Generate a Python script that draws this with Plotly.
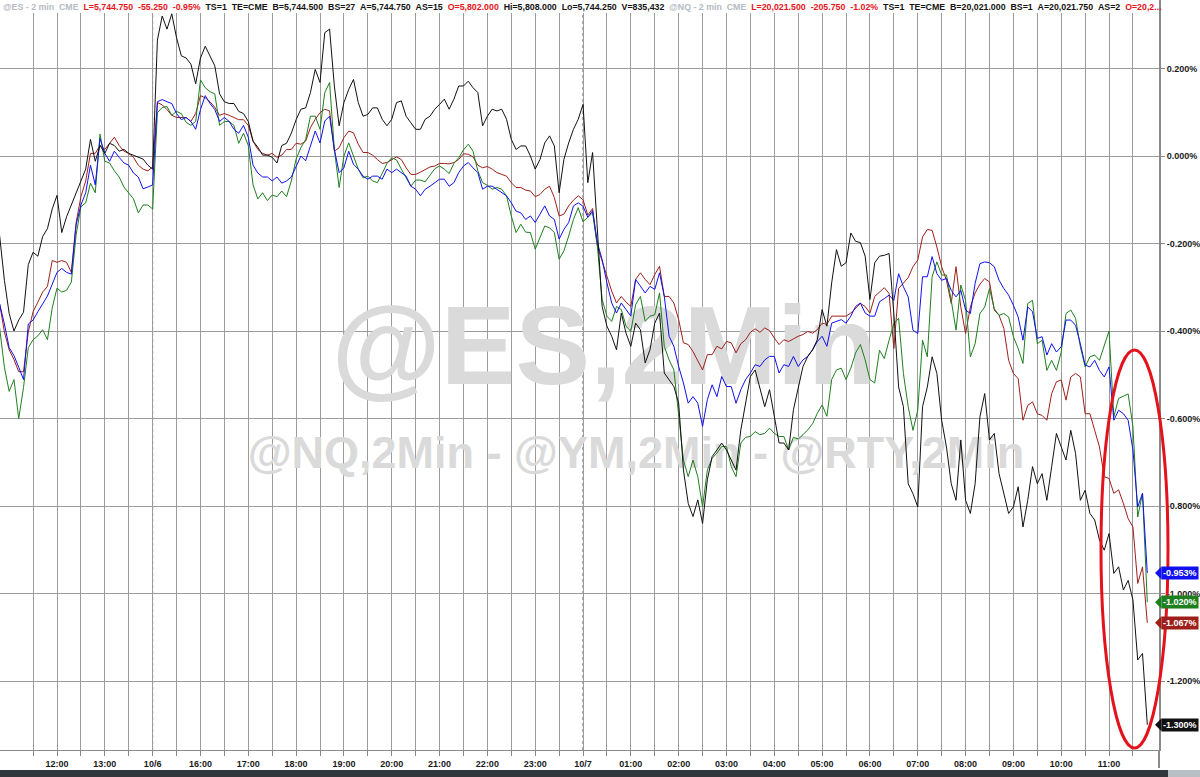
import plotly.graph_objects as go

# ---------------- data ----------------
# x axis: hour slots (0 = 12:00 label, 1 = 13:00, 2 = 10/6 session open ...), sampled every 0.1 slot (6 min)
hour_labels = ['12:00', '13:00', '10/6', '16:00', '17:00', '18:00', '19:00', '20:00',
               '21:00', '22:00', '23:00', '10/7', '01:00', '02:00', '03:00', '04:00',
               '05:00', '06:00', '07:00', '08:00', '09:00', '10:00', '11:00']
start_slot = -1.2
step_slot = 0.1

# % change series
rty = [
    -0.182, -0.284,
    -0.360, -0.400, -0.375, -0.357, -0.248, -0.220, -0.229, -0.184, -0.166, -0.121,
    -0.090, -0.175, -0.139, -0.112, -0.084, -0.057, -0.030, 0.038, -0.012, 0.024,
    0.006, 0.029, 0.024, 0.011, 0.015, 0.006, 0.002, -0.003, -0.007, -0.021,
    -0.030, 0.265, 0.320, 0.290, 0.325, 0.270, 0.229, 0.224, 0.210, 0.165,
    0.224, 0.251, 0.229, 0.206, 0.142, 0.124, 0.120, 0.120, 0.102, 0.097,
    0.079, 0.034, 0.020, 0.002, 0.002, -0.003, -0.016, 0.024, 0.029, 0.052,
    0.083, 0.107, 0.110, 0.145, 0.198, 0.168, 0.282, 0.290, 0.160, 0.069,
    0.122, 0.152, 0.175, 0.122, 0.091, 0.095, 0.110, 0.110, 0.084, 0.069,
    0.084, 0.122, 0.126, 0.091, 0.076, 0.061, 0.061, 0.084, 0.091, 0.107,
    0.118, 0.130, 0.107, 0.130, 0.160, 0.160, 0.171, 0.156, 0.145, 0.069,
    0.091, 0.107, 0.103, 0.107, 0.084, 0.038, 0.015, 0.023, 0.023, 0.000,
    -0.030, -0.008, 0.030, 0.046, 0.023, -0.084, -0.008, 0.030, 0.061, 0.084,
    0.118, -0.061, 0.008, -0.176, -0.344, -0.389, -0.412, -0.443, -0.359, -0.405,
    -0.435, -0.382, -0.397, -0.473, -0.443, -0.382, -0.359, -0.496, -0.511, -0.527,
    -0.565, -0.718, -0.794, -0.824, -0.786, -0.840, -0.740, -0.687, -0.672, -0.656,
    -0.672, -0.695, -0.718, -0.626, -0.565, -0.504, -0.489, -0.534, -0.573, -0.534,
    -0.595, -0.656, -0.656, -0.672, -0.580, -0.534, -0.481, -0.458, -0.443, -0.420,
    -0.351, -0.389, -0.290, -0.214, -0.252, -0.244, -0.176, -0.195, -0.198, -0.229,
    -0.328, -0.244, -0.229, -0.227, -0.223, -0.360, -0.528, -0.573, -0.749, -0.772,
    -0.802, -0.573, -0.528, -0.459, -0.497, -0.604, -0.665, -0.749, -0.787, -0.649,
    -0.787, -0.817, -0.749, -0.596, -0.543, -0.649, -0.634, -0.726, -0.772, -0.817,
    -0.802, -0.756, -0.848, -0.787, -0.710, -0.749, -0.726, -0.787, -0.710, -0.634,
    -0.665, -0.695, -0.627, -0.680, -0.787, -0.764, -0.817, -0.832, -0.878, -0.901,
    -0.863, -0.954, -0.939, -0.992, -0.970, -1.015, -1.152, -1.137, -1.300,
]

es = [
    -0.338, -0.384,
    -0.438, -0.456, -0.483, -0.511, -0.384, -0.375, -0.356, -0.338, -0.320, -0.293,
    -0.266, -0.257, -0.266, -0.270, -0.157, -0.112, -0.084, -0.021, -0.066, 0.040,
    0.006, -0.012, 0.011, -0.003, -0.016, -0.021, -0.039, -0.048, -0.075, -0.071,
    -0.066, 0.124, 0.129, 0.124, 0.120, 0.097, 0.083, 0.088, 0.079, 0.061,
    0.106, 0.138, 0.120, 0.106, 0.079, 0.088, 0.079, 0.061, 0.052, 0.070,
    0.043, -0.021, -0.039, -0.048, -0.048, -0.057, -0.048, -0.062, -0.057, -0.048,
    -0.025, 0.000, -0.011, 0.023, 0.057, 0.030, 0.080, 0.091, 0.015, -0.038,
    -0.027, 0.011, -0.019, -0.030, -0.046, -0.053, -0.046, -0.046, -0.053, -0.030,
    -0.038, -0.030, -0.038, -0.046, -0.069, -0.076, -0.091, -0.076, -0.069, -0.061,
    -0.053, -0.053, -0.069, -0.061, -0.038, -0.023, -0.015, -0.027, -0.038, -0.076,
    -0.069, -0.069, -0.076, -0.084, -0.091, -0.107, -0.126, -0.130, -0.145, -0.137,
    -0.152, -0.133, -0.114, -0.137, -0.145, -0.190, -0.168, -0.152, -0.114, -0.107,
    -0.115, -0.140, -0.125, -0.198, -0.237, -0.290, -0.336, -0.359, -0.336, -0.351,
    -0.366, -0.282, -0.298, -0.313, -0.298, -0.305, -0.267, -0.321, -0.412, -0.435,
    -0.481, -0.519, -0.565, -0.550, -0.565, -0.618, -0.557, -0.523, -0.550, -0.504,
    -0.527, -0.527, -0.565, -0.534, -0.511, -0.496, -0.477, -0.481, -0.466, -0.458,
    -0.458, -0.496, -0.477, -0.481, -0.458, -0.481, -0.466, -0.458, -0.443, -0.424,
    -0.412, -0.435, -0.382, -0.378, -0.374, -0.382, -0.366, -0.344, -0.336, -0.359,
    -0.366, -0.366, -0.333, -0.326, -0.318, -0.330, -0.269, -0.299, -0.322, -0.398,
    -0.406, -0.276, -0.276, -0.230, -0.269, -0.284, -0.280, -0.307, -0.322, -0.307,
    -0.352, -0.360, -0.291, -0.246, -0.242, -0.244, -0.253, -0.284, -0.303, -0.318,
    -0.341, -0.368, -0.421, -0.345, -0.356, -0.417, -0.413, -0.455, -0.429, -0.448,
    -0.436, -0.375, -0.375, -0.387, -0.429, -0.478, -0.482, -0.467, -0.490, -0.505,
    -0.482, -0.604, -0.581, -0.589, -0.604, -0.672, -0.802, -0.771, -0.953,
]

ym = [
    -0.338, -0.402,
    -0.443, -0.465, -0.493, -0.493, -0.402, -0.356, -0.334, -0.311, -0.298, -0.239,
    -0.243, -0.239, -0.243, -0.266, -0.152, -0.093, -0.057, 0.006, 0.006, 0.024,
    0.015, 0.029, 0.043, 0.024, 0.011, 0.006, -0.003, -0.021, -0.030, -0.034,
    -0.025, 0.122, 0.117, 0.106, 0.093, 0.088, 0.088, 0.088, 0.079, 0.097,
    0.138, 0.133, 0.124, 0.111, 0.093, 0.097, 0.093, 0.088, 0.083, 0.083,
    0.070, 0.034, 0.015, 0.006, 0.002, 0.006, -0.003, 0.002, 0.015, 0.015,
    0.029, 0.027, 0.034, 0.065, 0.084, 0.099, 0.107, 0.103, 0.011, 0.019,
    0.042, 0.057, 0.053, 0.027, 0.008, 0.008, 0.002, -0.008, -0.017, -0.015,
    -0.008, -0.002, -0.008, -0.027, -0.042, -0.042, -0.037, -0.030, -0.025, -0.023,
    -0.017, -0.017, -0.018, -0.015, -0.008, 0.005, 0.004, -0.002, -0.021, -0.027,
    -0.024, -0.030, -0.038, -0.042, -0.046, -0.061, -0.072, -0.072, -0.078, -0.080,
    -0.093, -0.088, -0.076, -0.069, -0.095, -0.137, -0.133, -0.114, -0.101, -0.091,
    -0.100, -0.135, -0.120, -0.206, -0.240, -0.271, -0.309, -0.336, -0.321, -0.334,
    -0.344, -0.282, -0.267, -0.282, -0.294, -0.271, -0.252, -0.321, -0.321, -0.336,
    -0.374, -0.427, -0.431, -0.447, -0.469, -0.489, -0.454, -0.454, -0.435, -0.441,
    -0.424, -0.427, -0.450, -0.429, -0.420, -0.403, -0.395, -0.403, -0.393, -0.399,
    -0.416, -0.431, -0.420, -0.424, -0.418, -0.412, -0.408, -0.401, -0.405, -0.397,
    -0.382, -0.385, -0.366, -0.366, -0.366, -0.366, -0.359, -0.347, -0.337, -0.344,
    -0.359, -0.321, -0.310, -0.301, -0.314, -0.440, -0.303, -0.290, -0.278, -0.253,
    -0.238, -0.185, -0.168, -0.170, -0.208, -0.253, -0.284, -0.337, -0.253, -0.345,
    -0.406, -0.345, -0.313, -0.293, -0.280, -0.288, -0.352, -0.364, -0.394, -0.467,
    -0.497, -0.509, -0.604, -0.570, -0.562, -0.589, -0.593, -0.604, -0.543, -0.516,
    -0.512, -0.558, -0.505, -0.497, -0.505, -0.589, -0.589, -0.627, -0.665, -0.733,
    -0.737, -0.771, -0.763, -0.794, -0.829, -0.848, -0.977, -0.939, -1.067,
]

nq = [
    -0.393, -0.483,
    -0.538, -0.511, -0.600, -0.529, -0.438, -0.420, -0.411, -0.397, -0.420, -0.347,
    -0.302, -0.311, -0.307, -0.288, -0.180, -0.116, -0.107, -0.062, -0.084, 0.050,
    -0.012, -0.016, -0.034, -0.048, -0.071, -0.084, -0.098, -0.130, -0.112, -0.112,
    -0.121, 0.099, 0.111, 0.113, 0.093, 0.102, 0.097, 0.077, 0.070, 0.079,
    0.174, 0.156, 0.147, 0.142, 0.070, 0.079, 0.079, 0.070, 0.029, 0.052,
    0.024, -0.066, -0.098, -0.084, -0.102, -0.089, -0.093, -0.080, -0.093, -0.057,
    -0.007, 0.019, 0.038, 0.091, 0.091, 0.061, 0.145, 0.168, 0.015, -0.072,
    0.000, 0.030, 0.000, -0.030, -0.050, -0.046, -0.057, -0.061, -0.040, -0.017,
    -0.004, -0.009, -0.030, -0.050, -0.069, -0.055, -0.055, -0.059, -0.044, -0.029,
    -0.023, -0.030, -0.040, -0.017, -0.004, 0.014, 0.027, 0.011, -0.034, -0.061,
    -0.067, -0.076, -0.072, -0.076, -0.091, -0.137, -0.175, -0.156, -0.174, -0.175,
    -0.213, -0.187, -0.160, -0.164, -0.175, -0.236, -0.217, -0.183, -0.145, -0.118,
    -0.150, -0.140, -0.130, -0.206, -0.328, -0.366, -0.378, -0.344, -0.351, -0.389,
    -0.401, -0.340, -0.321, -0.378, -0.366, -0.363, -0.313, -0.435, -0.466, -0.489,
    -0.595, -0.695, -0.733, -0.695, -0.733, -0.802, -0.718, -0.691, -0.679, -0.664,
    -0.664, -0.710, -0.733, -0.656, -0.643, -0.641, -0.630, -0.637, -0.634, -0.622,
    -0.634, -0.641, -0.641, -0.672, -0.643, -0.647, -0.637, -0.626, -0.612, -0.588,
    -0.569, -0.595, -0.511, -0.489, -0.485, -0.511, -0.485, -0.450, -0.431, -0.466,
    -0.511, -0.519, -0.444, -0.463, -0.421, -0.383, -0.371, -0.497, -0.573, -0.627,
    -0.581, -0.421, -0.459, -0.276, -0.242, -0.272, -0.272, -0.330, -0.398, -0.295,
    -0.330, -0.459, -0.429, -0.360, -0.345, -0.303, -0.349, -0.364, -0.360, -0.368,
    -0.413, -0.440, -0.474, -0.337, -0.330, -0.429, -0.421, -0.490, -0.467, -0.490,
    -0.448, -0.360, -0.352, -0.371, -0.436, -0.482, -0.459, -0.455, -0.467, -0.436,
    -0.400, -0.596, -0.554, -0.549, -0.544, -0.619, -0.825, -0.771, -1.020,
]

y_ticks = [0.2, 0.0, -0.2, -0.4, -0.6, -0.8, -1.0, -1.2]

header_tokens = [
    ("@ES - 2 min", "g"), ("CME", "g"), ("L=5,744.750", "r"), ("-55.250", "r"),
    ("-0.95%", "r"), ("TS=1", "k"), ("TE=CME", "k"), ("B=5,744.500", "k"),
    ("BS=27", "k"), ("A=5,744.750", "k"), ("AS=15", "k"), ("O=5,802.000", "r"),
    ("Hi=5,808.000", "k"), ("Lo=5,744.250", "k"), ("V=835,432", "k"),
    ("@NQ - 2 min", "g"), ("CME", "g"), ("L=20,021.500", "r"), ("-205.750", "r"),
    ("-1.02%", "r"), ("TS=1", "k"), ("TE=CME", "k"), ("B=20,021.000", "k"),
    ("BS=1", "k"), ("A=20,021.750", "k"), ("AS=2", "k"), ("O=20,2...", "r"),
]

# ---------------- geometry ----------------
W, H = 1200, 777
PLOT_W, PLOT_H = 1159, 750
X0_PX, PX_PER_SLOT = 57.0, 47.82        # pixel of slot 0 and width of one hour slot
Y0_PX, PX_PER_PCT = 156.0, 437.5        # pixel of 0% and pixels per 1%

x_range = [-X0_PX / PX_PER_SLOT, (PLOT_W - X0_PX) / PX_PER_SLOT]
y_range = [(Y0_PX - PLOT_H) / PX_PER_PCT, Y0_PX / PX_PER_PCT]

def px_slot(px):
    return (px - X0_PX) / PX_PER_SLOT

def py_val(py):
    return (Y0_PX - py) / PX_PER_PCT

n = len(es)
assert len(rty) == n and len(ym) == n and len(nq) == n, (len(rty), len(es), len(ym), len(nq))
t = [round(start_slot + step_slot * i, 2) for i in range(n)]

FONT = "Arial, Liberation Sans, sans-serif"
fig = go.Figure()

# watermark (behind lines)
fig.add_trace(go.Scatter(x=[px_slot(604)], y=[py_val(356)], mode="text", text=["@ES,2Min"],
                         textfont=dict(family=FONT, size=112, color="#dadada", weight="bold"),
                         hoverinfo="skip", showlegend=False, cliponaxis=False))
fig.add_trace(go.Scatter(x=[px_slot(636)], y=[py_val(457)], mode="text",
                         text=["@NQ,2Min - @YM,2Min - @RTY,2Min"],
                         textfont=dict(family=FONT, size=45, color="#dadada", weight="bold"),
                         hoverinfo="skip", showlegend=False, cliponaxis=False))

series = [("YM", ym, "#9e1f1a"), ("NQ", nq, "#1e7f1e"), ("ES", es, "#1010f0"), ("RTY", rty, "#111111")]
for name, vals, col in series:
    fig.add_trace(go.Scatter(x=t, y=vals, mode="lines", name=name,
                             line=dict(color=col, width=1), hoverinfo="skip", showlegend=False))

# x ticks: half-hour grid, labels on hours
tickvals = [k / 2 for k in range(-1, 46)]
ticktext = [hour_labels[int(v)] if (v == int(v) and 0 <= int(v) < len(hour_labels)) else "" for v in tickvals]

shapes = []
# session-break dotted lines
for s in (2, 11):
    shapes.append(dict(type="line", xref="x", yref="paper", x0=s, x1=s, y0=0, y1=1,
                       line=dict(color="#555555", width=1, dash="dot"), layer="below"))
# white header band
shapes.append(dict(type="rect", xref="paper", yref="paper", x0=0, x1=1, y0=1 - 13 / PLOT_H, y1=1,
                   fillcolor="white", line=dict(width=0), layer="above"))
# bottom dark scroll bar
shapes.append(dict(type="rect", xref="paper", yref="paper", x0=0, x1=W / PLOT_W,
                   y0=1 - 777 / PLOT_H, y1=1 - 770 / PLOT_H, fillcolor="#30363c", line=dict(width=0)))
shapes.append(dict(type="rect", xref="paper", yref="paper", x0=1168 / PLOT_W, x1=W / PLOT_W,
                   y0=1 - 777 / PLOT_H, y1=1 - 770 / PLOT_H, fillcolor="#b9bec4", line=dict(width=0)))
# axis line extension into label strip
shapes.append(dict(type="line", xref="paper", yref="paper", x0=1, x1=1, y0=1 - 768 / PLOT_H, y1=0,
                   line=dict(color="#8a8a8a", width=2)))
# red highlight ellipse
shapes.append(dict(type="circle", xref="paper", yref="paper",
                   x0=1101 / PLOT_W, x1=1168 / PLOT_W, y0=1 - 748 / PLOT_H, y1=1 - 350 / PLOT_H,
                   line=dict(color="#e3121b", width=3), layer="above"))

# last-value pointer triangles (left tip of each value tag)
tip_h = 6.5 / PX_PER_PCT
for name, vals, col in series:
    v = vals[-1]
    shapes.append(dict(type="path", xref="paper", yref="y",
                       path=f"M {1155 / PLOT_W},{v} L {1161.5 / PLOT_W},{v + tip_h} L {1161.5 / PLOT_W},{v - tip_h} Z",
                       fillcolor=col, line=dict(width=0), layer="above"))

colors = {"g": "#b3bbc4", "r": "#e8141c", "k": "#141414"}
sep = "\u00a0\u00a0"
header_html = sep.join(f"<span style='color:{colors[c]}'>{txt}</span>" for txt, c in header_tokens)
annotations = [dict(text=header_html, xref="paper", yref="paper", x=1 / PLOT_W, y=1 - 6.5 / PLOT_H,
                    xanchor="left", yanchor="middle", showarrow=False,
                    font=dict(family=FONT, size=8.8, color="#141414", weight="bold"))]

for name, vals, col in series:
    annotations.append(dict(text=f"{vals[-1]:.3f}%", xref="paper", yref="y", x=1161 / PLOT_W, y=vals[-1],
                            xanchor="left", yanchor="middle", showarrow=False, bgcolor=col,
                            borderpad=1, font=dict(family=FONT, size=9, color="white", weight="bold")))

fig.update_layout(
    width=W, height=H,
    margin=dict(l=0, r=W - PLOT_W, t=0, b=H - PLOT_H),
    paper_bgcolor="white", plot_bgcolor="white",
    showlegend=False,
    shapes=shapes, annotations=annotations,
    xaxis=dict(range=x_range, tickmode="array", tickvals=tickvals, ticktext=ticktext,
               showgrid=True, gridcolor="#9c9c9c", gridwidth=1, zeroline=False,
               showline=True, linecolor="#8a8a8a", linewidth=1,
               ticks="outside", ticklen=5, tickcolor="#8a8a8a",
               tickfont=dict(family=FONT, size=9, color="#1a1a1a", weight="bold"), fixedrange=True),
    yaxis=dict(range=y_range, side="right", tickmode="array", tickvals=y_ticks,
               ticktext=[f"{v:.3f}%" for v in y_ticks],
               showgrid=True, gridcolor="#9c9c9c", gridwidth=1, zeroline=False,
               showline=True, linecolor="#8a8a8a", linewidth=2, mirror=False,
               ticks="outside", ticklen=4, tickcolor="#8a8a8a",
               tickfont=dict(family=FONT, size=9, color="#1a1a1a", weight="bold"), fixedrange=True),
)

fig.write_html("out.html", config={"displayModeBar": False},
               post_script="document.body.style.margin='0';")
